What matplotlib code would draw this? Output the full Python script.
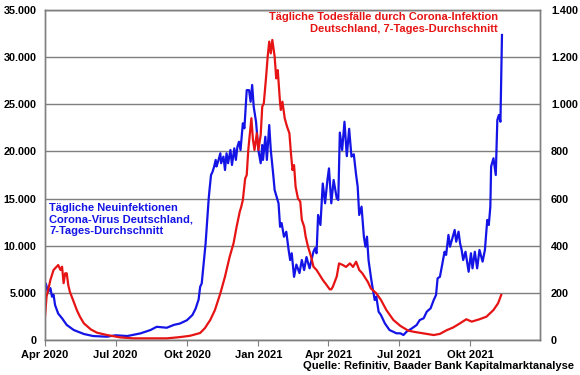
import matplotlib
matplotlib.use("Agg")
from matplotlib import pyplot as plt
from matplotlib.ticker import FuncFormatter
import numpy as np

plt.rcParams['font.family'] = ['Liberation Sans', 'DejaVu Sans']
plt.rcParams['font.weight'] = 'bold'

# Tägliche Neuinfektionen (linke Achse)
inf_dates = [
    "2020-04-01", "2020-04-02", "2020-04-05", "2020-04-08", "2020-04-10", "2020-04-12",
    "2020-04-14", "2020-04-18", "2020-04-23", "2020-04-29", "2020-05-08", "2020-05-21",
    "2020-06-02", "2020-06-20", "2020-07-01", "2020-07-16", "2020-08-02", "2020-08-15",
    "2020-08-23", "2020-08-30", "2020-09-05", "2020-09-14", "2020-09-22", "2020-10-01",
    "2020-10-08", "2020-10-12", "2020-10-16", "2020-10-18", "2020-10-20", "2020-10-25",
    "2020-10-29", "2020-10-30", "2020-11-01", "2020-11-03", "2020-11-05", "2020-11-07",
    "2020-11-08", "2020-11-10", "2020-11-13", "2020-11-14", "2020-11-17", "2020-11-19",
    "2020-11-21", "2020-11-23", "2020-11-26", "2020-11-28", "2020-12-01", "2020-12-03",
    "2020-12-05", "2020-12-07", "2020-12-09", "2020-12-12", "2020-12-14", "2020-12-17",
    "2020-12-20", "2020-12-22", "2020-12-24", "2020-12-26", "2020-12-29", "2021-01-01",
    "2021-01-04", "2021-01-06", "2021-01-07", "2021-01-10", "2021-01-12", "2021-01-15",
    "2021-01-17", "2021-01-20", "2021-01-22", "2021-01-27", "2021-01-29", "2021-01-31",
    "2021-02-03", "2021-02-06", "2021-02-09", "2021-02-11", "2021-02-13", "2021-02-16",
    "2021-02-19", "2021-02-23", "2021-02-26", "2021-03-01", "2021-03-04", "2021-03-08",
    "2021-03-13", "2021-03-15", "2021-03-17", "2021-03-19", "2021-03-22", "2021-03-25",
    "2021-03-28", "2021-03-31", "2021-04-02", "2021-04-05", "2021-04-08", "2021-04-12",
    "2021-04-14", "2021-04-16", "2021-04-19", "2021-04-22", "2021-04-25", "2021-04-28",
    "2021-05-01", "2021-05-04", "2021-05-07", "2021-05-09", "2021-05-11", "2021-05-14",
    "2021-05-17", "2021-05-19", "2021-05-21", "2021-05-23", "2021-05-26", "2021-05-28",
    "2021-05-31", "2021-06-02", "2021-06-05", "2021-06-08", "2021-06-13", "2021-06-19",
    "2021-06-28", "2021-07-03", "2021-07-07", "2021-07-11", "2021-07-18", "2021-07-24",
    "2021-07-28", "2021-08-02", "2021-08-06", "2021-08-11", "2021-08-15", "2021-08-18",
    "2021-08-20", "2021-08-23", "2021-08-27", "2021-08-29", "2021-08-31", "2021-09-03",
    "2021-09-05", "2021-09-08", "2021-09-11", "2021-09-13", "2021-09-16", "2021-09-18",
    "2021-09-20", "2021-09-22", "2021-09-25", "2021-09-29", "2021-10-02", "2021-10-04",
    "2021-10-07", "2021-10-10", "2021-10-13", "2021-10-17", "2021-10-20", "2021-10-22",
    "2021-10-23", "2021-10-25", "2021-10-27", "2021-10-28", "2021-10-31", "2021-11-03",
    "2021-11-05", "2021-11-07", "2021-11-09", "2021-11-11",
]
inf_values = [
    4950, 6000, 5100, 5500, 4600, 4800,
    3700, 2800, 2300, 1600, 1060, 640,
    420, 350, 500, 420, 700, 1060,
    1400, 1350, 1300, 1600, 1750, 2100,
    2650, 3300, 4300, 5650, 6000, 10250,
    15000, 15900, 17500, 17850, 18400, 19100,
    18400, 18900, 19800, 18750, 19450, 18030,
    19800, 18750, 20150, 18560, 20330, 19100,
    20500, 21030, 20150, 22980, 22450, 26500,
    26500, 25270, 27050, 24750, 23150, 20150,
    18750, 20680, 19100, 21560, 19100, 22800,
    20150, 17680, 15900, 14500, 12000, 12400,
    10950, 11480, 9550, 8480, 9200, 6700,
    8000, 7100, 8480, 7420, 8800, 7600,
    9360, 9730, 9200, 13260, 12200, 16600,
    14500, 16970, 18200, 14500, 16970, 15030,
    14850, 22000, 20150, 23150, 19500, 22400,
    19450, 19700, 17500, 16260, 13260, 14140,
    10960, 9900, 10960, 8480, 6700, 5650,
    4240, 4600, 3000, 2650, 1770, 1060,
    710, 710, 530, 880, 1240, 1590,
    2120, 2300, 3000, 3360, 4240, 4770,
    6540, 6700, 8480, 9360, 9020, 11140,
    9900, 10780, 11670, 10430, 11490, 10250,
    9550, 8480, 9360, 7240, 9200, 7600,
    9360, 7600, 9550, 8310, 9550, 11670,
    12730, 12200, 14140, 18400, 19270, 17500,
    23330, 23860, 23150, 32350,
]

# Tägliche Todesfälle (rechte Achse)
death_dates = [
    "2020-04-01", "2020-04-03", "2020-04-08", "2020-04-12", "2020-04-16", "2020-04-18",
    "2020-04-21", "2020-04-23", "2020-04-25", "2020-04-27", "2020-04-29", "2020-05-01",
    "2020-05-03", "2020-05-08", "2020-05-12", "2020-05-16", "2020-05-21", "2020-05-30",
    "2020-06-07", "2020-06-20", "2020-07-07", "2020-07-24", "2020-08-19", "2020-09-05",
    "2020-09-18", "2020-09-26", "2020-10-05", "2020-10-14", "2020-10-18", "2020-10-24",
    "2020-10-31", "2020-11-06", "2020-11-13", "2020-11-19", "2020-11-25", "2020-11-30",
    "2020-12-04", "2020-12-08", "2020-12-10", "2020-12-12", "2020-12-15", "2020-12-17",
    "2020-12-19", "2020-12-23", "2020-12-25", "2020-12-27", "2020-12-30", "2021-01-01",
    "2021-01-04", "2021-01-06", "2021-01-08", "2021-01-11", "2021-01-13", "2021-01-15",
    "2021-01-17", "2021-01-19", "2021-01-22", "2021-01-24", "2021-01-26", "2021-01-29",
    "2021-01-30", "2021-02-01", "2021-02-04", "2021-02-07", "2021-02-10", "2021-02-12",
    "2021-02-14", "2021-02-16", "2021-02-18", "2021-02-21", "2021-02-24", "2021-02-26",
    "2021-03-01", "2021-03-03", "2021-03-06", "2021-03-10", "2021-03-13", "2021-03-17",
    "2021-03-21", "2021-03-25", "2021-03-30", "2021-04-03", "2021-04-05", "2021-04-07",
    "2021-04-12", "2021-04-15", "2021-04-20", "2021-04-24", "2021-04-29", "2021-05-03",
    "2021-05-07", "2021-05-11", "2021-05-15", "2021-05-22", "2021-05-26", "2021-06-02",
    "2021-06-08", "2021-06-15", "2021-06-24", "2021-07-03", "2021-07-13", "2021-07-20",
    "2021-08-02", "2021-08-15", "2021-08-23", "2021-09-01", "2021-09-09", "2021-09-18",
    "2021-09-26", "2021-10-03", "2021-10-13", "2021-10-22", "2021-10-31", "2021-11-06",
    "2021-11-10",
]
death_values = [
    99, 184, 255, 297, 311, 318,
    297, 311, 241, 283, 283, 233,
    205, 162, 127, 99, 71, 45,
    31, 21, 11, 7, 7, 7,
    11, 14, 18, 26, 30, 50,
    85, 127, 198, 269, 353, 410,
    481, 544, 566, 594, 685, 700,
    806, 941, 850, 806, 877, 806,
    870, 990, 1004, 1117, 1202, 1266,
    1216, 1273, 1202, 1110, 1145, 1004,
    976, 1011, 940, 905, 877, 792,
    721, 742, 650, 601, 587, 510,
    481, 438, 396, 353, 311, 297,
    276, 255, 233, 215, 215, 226,
    269, 325, 318, 310, 325, 310,
    332, 297, 283, 247, 219, 198,
    170, 127, 85, 60, 40, 35,
    28, 21, 26, 42, 53, 71,
    88, 78, 88, 99, 127, 156,
    191,
]

tick_dates = ["2020-04-01", "2020-07-01", "2020-10-01", "2021-01-01",
              "2021-04-01", "2021-07-01", "2021-10-01"]
tick_labels = ["Apr 2020", "Jul 2020", "Okt 2020", "Jan 2021",
               "Apr 2021", "Jul 2021", "Okt 2021"]

blue = "#1414E6"
red = "#E61414"
gray = "#7F7F7F"

def dots(v, pos):
    return f"{int(v):,}".replace(",", ".")

fig = plt.figure(figsize=(5.8, 3.75), dpi=100)
ax = fig.add_axes([45 / 580, 35 / 375, 495 / 580, 330 / 375])
ax2 = ax.twinx()

ax.plot(np.array(inf_dates, dtype="datetime64[D]"), inf_values, color=blue, lw=1.6)
ax2.plot(np.array(death_dates, dtype="datetime64[D]"), death_values, color=red, lw=1.6)

ax.set_xlim(np.datetime64("2020-04-01"), np.datetime64("2021-12-30"))
ax.set_ylim(0, 35000)
ax2.set_ylim(0, 1400)
ax.set_yticks(range(0, 35001, 5000))
ax2.set_yticks(range(0, 1401, 200))
ax.yaxis.set_major_formatter(FuncFormatter(dots))
ax2.yaxis.set_major_formatter(FuncFormatter(dots))
ax.set_xticks(np.array(tick_dates, dtype="datetime64[D]"))
ax.set_xticklabels(tick_labels)

ax.grid(True, axis="y", color=gray, lw=1.0)
ax.set_axisbelow(True)
for a in (ax, ax2):
    for s in a.spines.values():
        s.set_color(gray)
        s.set_linewidth(1.0)
ax.tick_params(axis="x", length=4, color=gray, labelsize=8, pad=3)
ax.tick_params(axis="y", length=0, labelsize=7.8, pad=6)
ax2.tick_params(axis="y", length=0, labelsize=7.8, pad=8)

fig.text(498 / 580, 1 - 12 / 375,
         "Tägliche Todesfälle durch Corona-Infektion\nDeutschland, 7-Tages-Durchschnitt",
         ha="right", va="top", color=red, fontsize=8, fontweight="bold", linespacing=1.25)
fig.text(49 / 580, 1 - 203 / 375,
         "Tägliche Neuinfektionen\nCorona-Virus Deutschland,\n7-Tages-Durchschnitt",
         ha="left", va="top", color=blue, fontsize=8, fontweight="bold", linespacing=1.2)
fig.text(574 / 580, 1 - 366 / 375, "Quelle: Refinitiv, Baader Bank Kapitalmarktanalyse",
         ha="right", va="center", color="black", fontsize=8, fontweight="bold")

fig.savefig("out.png", dpi=100)
